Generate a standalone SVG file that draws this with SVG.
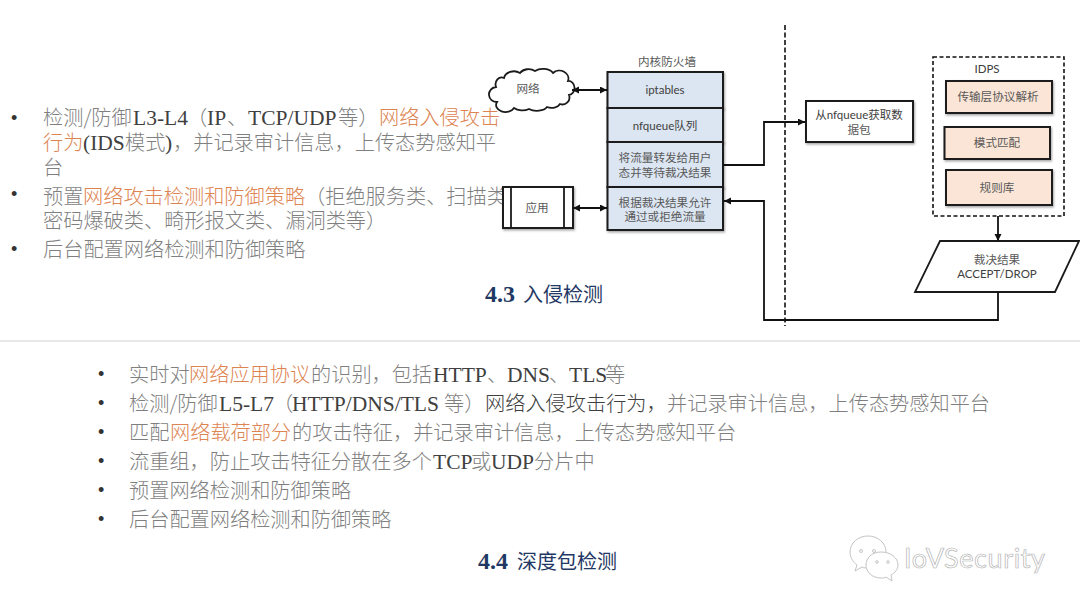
<svg xmlns="http://www.w3.org/2000/svg" width="1080" height="608" viewBox="0 0 1080 608">
<style>
text{font-family:"Noto Sans CJK SC","Noto Sans",sans-serif}
.b{font-size:20.2px;fill:#7f7f7f;font-weight:300}
.l{font-family:"Liberation Serif","Noto Sans CJK SC",serif;font-size:21.5px;fill:#404040}
.o{fill:#dd8452}
.d{fill:#404040}
.dot{font-family:"Liberation Sans",sans-serif;font-size:18px;fill:#333}
.t{fill:#1f3864;font-size:20px}
.tn{font-family:"Liberation Serif",serif;font-weight:bold;font-size:24px;fill:#1f3864}
.n{font-size:11.6px;fill:#595959;text-anchor:middle}
.s{font-family:"Lato","Noto Sans CJK SC",sans-serif;font-size:11.5px;fill:#404040;text-anchor:middle}
.box{stroke:#1a1a1a;stroke-width:2;filter:url(#sh)}
.blue{fill:#dce6f2}
.peach{fill:#fbe5d6}
.white{fill:#fff}
.c{fill:none;stroke:#111;stroke-width:1.8}
.wm{font-family:"Lato",sans-serif;font-size:27px;fill:#fff;stroke:#b5b5b5;stroke-width:.7;letter-spacing:.6px}
.wi{fill:#fff;stroke:#c4c4c4;stroke-width:1}
</style>
<defs>
<filter id="sh" x="-10%" y="-10%" width="125%" height="130%"><feDropShadow dx="1" dy="1.5" stdDeviation="1" flood-color="#000" flood-opacity=".35"/></filter>
<marker id="a" markerWidth="8" markerHeight="8" refX="7" refY="3.500" orient="auto-start-reverse" markerUnits="userSpaceOnUse"><path d="M0,0L7,3.500L0,7z" fill="#111"/></marker>
</defs>
<rect width="1080" height="608" fill="#fff"/>

<g id="upper-text">
<text class="dot" x="11" y="124">•</text>
<text class="b" y="125"><tspan x="43">检测/防御</tspan><tspan class="l" x="133">L3-L4</tspan><tspan x="187">（</tspan><tspan class="l" x="207">IP</tspan><tspan x="227">、</tspan><tspan class="l" x="248">TCP/UDP</tspan><tspan x="338">等）</tspan><tspan class="o" x="379">网络入侵攻击</tspan></text>
<text class="b" y="150"><tspan class="o" x="43">行为</tspan><tspan class="l" x="83">(IDS</tspan><tspan x="125">模式</tspan><tspan class="l" x="165">)</tspan><tspan x="173">，并记录审计信息，上传态势感知平</tspan></text>
<text class="b" x="43" y="175">台</text>
<text class="dot" x="11" y="200">•</text>
<text class="b" y="204"><tspan x="43">预置</tspan><tspan class="o" x="83">网络攻击检测和防御策略</tspan><tspan x="305">（拒绝服务类、扫描类</tspan></text>
<text class="b" x="43" y="228">密码爆破类、畸形报文类、漏洞类等）</text>
<text class="dot" x="11" y="255">•</text>
<text class="b" x="43" y="257">后台配置网络检测和防御策略</text>
<text y="302"><tspan class="tn" x="485">4.3</tspan><tspan class="t" x="523">入侵检测</tspan></text>
</g>

<g id="lower-text">
<text class="dot" x="98" y="380">•</text>
<text class="b" y="382"><tspan x="129">实时对</tspan><tspan class="o" x="189">网络应用协议</tspan><tspan x="311">的识别，包括</tspan><tspan class="l" x="433">HTTP</tspan><tspan x="487">、</tspan><tspan class="l" x="507">DNS</tspan><tspan x="549">、</tspan><tspan class="l" x="569">TLS</tspan><tspan x="605">等</tspan></text>
<text class="dot" x="98" y="409">•</text>
<text class="b" y="411"><tspan x="129">检测/防御</tspan><tspan class="l" x="219">L5-L7</tspan><tspan x="273">（</tspan><tspan class="l" x="292">HTTP/DNS/TLS</tspan><tspan x="444">等）</tspan><tspan class="d" x="485">网络入侵攻击行为，</tspan><tspan x="667">并记录审计信息，上传态势感知平台</tspan></text>
<text class="dot" x="98" y="438">•</text>
<text class="b" y="440"><tspan x="129">匹配</tspan><tspan class="o" x="170">网络载荷部分</tspan><tspan x="292">的攻击特征，并记录审计信息，上传态势感知平台</tspan></text>
<text class="dot" x="98" y="467">•</text>
<text class="b" y="469"><tspan x="129">流重组，防止攻击特征分散在多个</tspan><tspan class="l" x="433">TCP</tspan><tspan x="471">或</tspan><tspan class="l" x="491">UDP</tspan><tspan x="534">分片中</tspan></text>
<text class="dot" x="98" y="496">•</text>
<text class="b" x="129" y="498">预置网络检测和防御策略</text>
<text class="dot" x="98" y="525">•</text>
<text class="b" x="129" y="527">后台配置网络检测和防御策略</text>
<text y="569"><tspan class="tn" x="478">4.4</tspan><tspan class="t" x="517">深度包检测</tspan></text>
</g>

<line id="divider" x1="0" y1="341" x2="1080" y2="341" stroke="#d0d0d0" stroke-width="1"/>

<g id="boundary"><line x1="785" y1="25" x2="785" y2="326" stroke="#111" stroke-width="1.6" stroke-dasharray="5 2.5"/></g>

<g id="cloud">
<path class="white" d="M497,102a7,7 0 0 1 -1,-15a6,7 0 0 1 8,-9a10,8 0 0 1 16,-5a10,8 0 0 1 15,-2a11,7 0 0 1 18,2a9,8 0 0 1 15,8a6,7 0 0 1 1,14a7,7 0 0 1 -9,9a9,6 0 0 1 -13,3a11,6 0 0 1 -18,2a11,7 0 0 1 -15,-1a8,6 0 0 1 -17,-6z" stroke="#1a1a1a" stroke-width="1.800"/>
<text class="n" x="528" y="93">网络</text>
</g>
<g id="app">
<rect class="box white" x="503" y="187" width="70" height="41"/>
<line x1="511" y1="187" x2="511" y2="228" stroke="#1a1a1a" stroke-width="1.800"/>
<line x1="564" y1="187" x2="564" y2="228" stroke="#1a1a1a" stroke-width="1.800"/>
<text class="n" x="537" y="212">应用</text>
</g>
<g id="firewall">
<text class="n" x="667" y="66">内核防火墙</text>
<g id="fw-iptables"><rect class="box blue" x="607.5" y="72" width="115.5" height="36"/><text class="s" x="665" y="94">iptables</text></g>
<g id="fw-nfqueue"><rect class="box blue" x="607.5" y="108" width="115.5" height="34"/><text class="s" x="665" y="130">nfqueue队列</text></g>
<g id="fw-forward"><rect class="box blue" x="607.5" y="142" width="115.5" height="45"/><text class="n" x="665" y="162">将流量转发给用户</text><text class="n" x="665" y="177">态并等待裁决结果</text></g>
<g id="fw-verdict"><rect class="box blue" x="607.5" y="187" width="115.5" height="43"/><text class="n" x="665" y="207">根据裁决结果允许</text><text class="n" x="665" y="221">通过或拒绝流量</text></g>
</g>
<g id="fetch">
<rect class="box white" x="806" y="101" width="107" height="41"/>
<text class="s" x="859" y="119">从nfqueue获取数</text>
<text class="n" x="859" y="134">据包</text>
</g>
<g id="idps">
<rect x="933" y="57" width="131" height="159" fill="none" stroke="#111" stroke-width="1.600" stroke-dasharray="4 2.5"/>
<text class="s" x="987" y="73">IDPS</text>
<g id="idps-parse"><rect class="box peach" x="946" y="81" width="106" height="32"/><text class="n" x="998" y="101">传输层协议解析</text></g>
<g id="idps-match"><rect class="box peach" x="944.500" y="127" width="105.500" height="32"/><text class="n" x="997" y="147">模式匹配</text></g>
<g id="idps-rules"><rect class="box peach" x="946" y="170" width="106" height="35"/><text class="n" x="997" y="192">规则库</text></g>
</g>
<g id="verdict">
<path class="white" d="M940,241H1079L1055,292H915z" stroke="#1a1a1a" stroke-width="1.800"/>
<text class="n" x="997" y="264">裁决结果</text>
<text class="s" x="997" y="278">ACCEPT/DROP</text>
</g>

<g id="connectors">
<path class="c" d="M572,90H607" marker-start="url(#a)" marker-end="url(#a)"/>
<path class="c" d="M573,208H607" marker-start="url(#a)" marker-end="url(#a)"/>
<path class="c" d="M723,165H764V122H805" marker-end="url(#a)"/>
<path class="c" d="M998,292V320H764V201H724" marker-end="url(#a)"/>
<path class="c" d="M998,216V241" marker-end="url(#a)"/>
</g>

<g id="watermark" transform="translate(0,6)">
<path class="wi" d="M868,530c-10,0 -18,7 -18,16c0,5 3,10 7,13l-2,6l7,-4c2,1 4,1 6,1c10,0 18,-7 18,-16s-8,-16 -18,-16z"/>
<path class="wi" d="M881,546c-9,0 -15,6 -15,13s6,13 15,13c2,0 4,0 5,-1l6,4l-1,-6c4,-2 7,-6 7,-10c0,-7 -7,-13 -17,-13z"/>
<circle class="wi" cx="861" cy="545" r="1.500"/><circle class="wi" cx="874" cy="545" r="1.500"/><circle class="wi" cx="877" cy="556" r="1.300"/><circle class="wi" cx="888" cy="556" r="1.300"/>
<text class="wm" x="904" y="562">IoVSecurity</text>
</g>
</svg>
